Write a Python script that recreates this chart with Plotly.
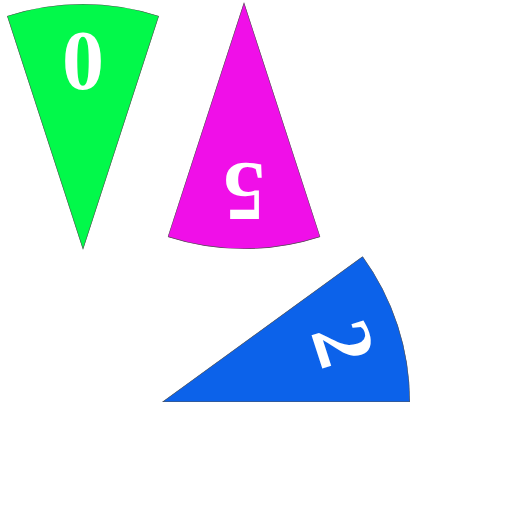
import math
import plotly.graph_objects as go

# three slices of a 10-digit wheel, each slice spans 36 degrees
digits = ["0", "5", "2"]
slice_index = [0, 5, 2]
slice_width = 36
slice_r = [1, 1, 1]
colors = ["#02F94A", "#F00FE8", "#0C62EA"]

# where each slice sits on the page (apex px, radius px)
W = H = 512
apex_px = [(83, 250), (244, 2), (162, 402)]
radius_px = [246, 247, 248]
label_frac = 0.77


def sector_bbox(a0, a1):
    pts = [(0.0, 0.0)]
    for a in [a0, a1] + [k * 90 for k in range(-4, 9) if a0 <= k * 90 <= a1]:
        pts.append((math.cos(math.radians(a)), math.sin(math.radians(a))))
    xs = [p[0] for p in pts]
    ys = [p[1] for p in pts]
    return min(xs), min(ys), max(xs), max(ys)


fig = go.Figure()
annotations = []
for i, (d, k) in enumerate(zip(digits, slice_index)):
    center = (90 - slice_width * k) % 360
    a0, a1 = center - slice_width / 2, center + slice_width / 2
    x0, y0, x1, y1 = sector_bbox(a0, a1)
    ax, ay = apex_px[i]
    R = radius_px[i]
    left = ax + x0 * R
    right = ax + x1 * R
    top = ay - y1 * R
    bottom = ay - y0 * R
    name = "polar" if i == 0 else f"polar{i + 1}"

    fig.add_trace(go.Barpolar(
        r=[slice_r[i]],
        theta=[center],
        width=[slice_width],
        marker=dict(color=colors[i], line=dict(color="#555555", width=1.2)),
        subplot=name,
        showlegend=False,
        hoverinfo="skip",
    ))
    fig.update_layout(**{name: dict(
        domain=dict(x=[left / W, right / W], y=[1 - bottom / H, 1 - top / H]),
        sector=[a0, a1],
        bgcolor="rgba(0,0,0,0)",
        radialaxis=dict(range=[0, 1], visible=False),
        angularaxis=dict(visible=False, direction="counterclockwise", rotation=0),
    )})

    tx = ax + label_frac * R * math.cos(math.radians(center))
    ty = ay - label_frac * R * math.sin(math.radians(center))
    ang = (90 - center) % 360
    if ang > 180:
        ang -= 360
    annotations.append(dict(
        text=d, x=tx / W, y=1 - ty / H, xref="paper", yref="paper",
        xanchor="center", yanchor="middle", showarrow=False,
        textangle=ang,
        font=dict(family="Liberation Serif", size=84, color="white", weight="bold"),
    ))

fig.update_layout(
    width=W, height=H,
    margin=dict(l=0, r=0, t=0, b=0),
    paper_bgcolor="white",
    plot_bgcolor="white",
    annotations=annotations,
)

fig.write_html("out.html", config={"displayModeBar": False},
               post_script="document.body.style.margin='0';")
